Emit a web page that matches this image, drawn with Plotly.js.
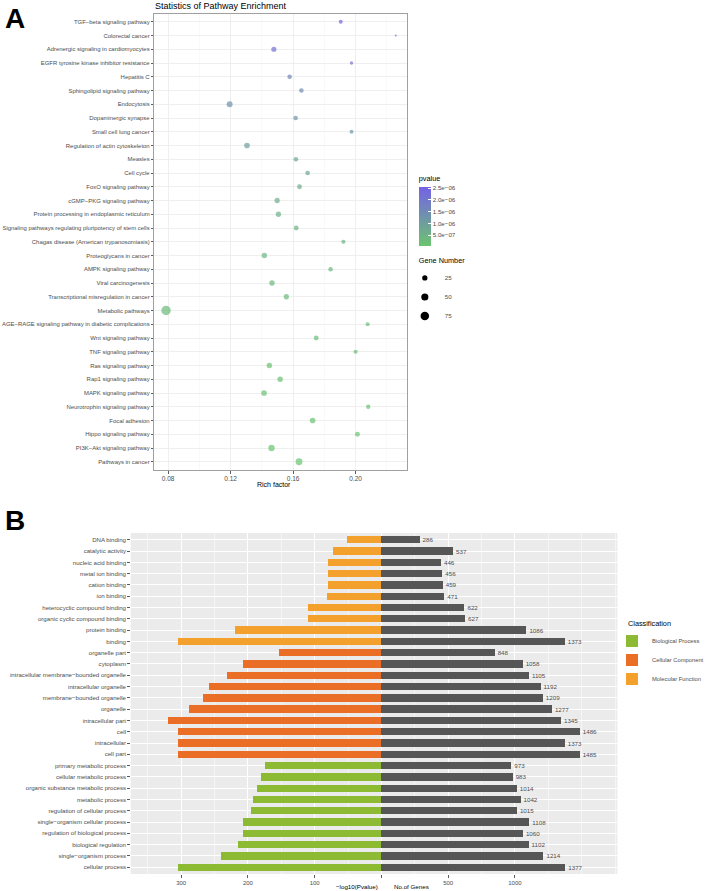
<!DOCTYPE html>
<html><head><meta charset="utf-8">
<script src="https://cdn.plot.ly/plotly-3.0.1.min.js"></script>
<style>html,body{margin:0;padding:0;background:#fff;overflow:hidden}</style>
</head><body><div id="chart" style="width:709px;height:891px"></div>
<script>
// ---------- Panel A data ----------
const pathways = ["TGF−beta signaling pathway","Colorectal cancer","Adrenergic signaling in cardiomyocytes","EGFR tyrosine kinase inhibitor resistance","Hepatitis C","Sphingolipid signaling pathway","Endocytosis","Dopaminergic synapse","Small cell lung cancer","Regulation of actin cytoskeleton","Measles","Cell cycle","FoxO signaling pathway","cGMP−PKG signaling pathway","Protein processing in endoplasmic reticulum","Signaling pathways regulating pluripotency of stem cells","Chagas disease (American trypanosomiasis)","Proteoglycans in cancer","AMPK signaling pathway","Viral carcinogenesis","Transcriptional misregulation in cancer","Metabolic pathways","AGE−RAGE signaling pathway in diabetic complications","Wnt signaling pathway","TNF signaling pathway","Ras signaling pathway","Rap1 signaling pathway","MAPK signaling pathway","Neurotrophin signaling pathway","Focal adhesion","Hippo signaling pathway","PI3K−Akt signaling pathway","Pathways in cancer"];
const richFactor = [0.1905,0.2257,0.1477,0.1974,0.1578,0.1653,0.1194,0.1616,0.1974,0.1305,0.1618,0.1693,0.1641,0.1498,0.1506,0.1620,0.1922,0.1416,0.1840,0.1465,0.1557,0.0787,0.2077,0.1748,0.2000,0.1448,0.1517,0.1414,0.2081,0.1725,0.2012,0.1462,0.1638];
const geneNumber = [14,8,24,11,19,19,33,20,14,29,20,19,21,25,25,21,16,27,18,27,25,98,15,21,16,27,27,30,17,29,22,39,46];
const pValue = [2.55e-6,2.3e-6,2.15e-6,2.05e-6,1.6e-6,1.5e-6,1.35e-6,1.2e-6,1.1e-6,1.0e-6,8.5e-7,7.5e-7,6.5e-7,6.0e-7,5.5e-7,5.0e-7,4.6e-7,4.2e-7,3.8e-7,3.4e-7,3.0e-7,2.7e-7,2.4e-7,2.1e-7,1.8e-7,1.6e-7,1.4e-7,1.2e-7,1.0e-7,8.5e-8,7.0e-8,5.5e-8,4.5e-8];
const richTicks = [0.08,0.12,0.16,0.20];
const pTicks = [5e-7,1e-6,1.5e-6,2e-6,2.5e-6];
const pTickText = ["5.0e−07","1.0e−06","1.5e−06","2.0e−06","2.5e−06"];
const sizeLegendValues = [25,50,75];

// ---------- Panel B data ----------
const goTerms = ["DNA binding","catalytic activity","nucleic acid binding","metal ion binding","cation binding","ion binding","heterocyclic compound binding","organic cyclic compound binding","protein binding","binding","organelle part","cytoplasm","intracellular membrane−bounded organelle","intracellular organelle","membrane−bounded organelle","organelle","intracellular part","cell","intracellular","cell part","primary metabolic process","cellular metabolic process","organic substance metabolic process","metabolic process","regulation of cellular process","single−organism cellular process","regulation of biological process","biological regulation","single−organism process","cellular process"];
const goClass = ["Molecular Function","Molecular Function","Molecular Function","Molecular Function","Molecular Function","Molecular Function","Molecular Function","Molecular Function","Molecular Function","Molecular Function","Cellular Component","Cellular Component","Cellular Component","Cellular Component","Cellular Component","Cellular Component","Cellular Component","Cellular Component","Cellular Component","Cellular Component","Biological Process","Biological Process","Biological Process","Biological Process","Biological Process","Biological Process","Biological Process","Biological Process","Biological Process","Biological Process"];
const goLogP = [51,73,80,80,80,82,110,110,220,305,154,207,232,259,267,288,319,305,305,305,175,180,186,192,196,207,207,215,240,305];
const goGenes = [286,537,446,456,459,471,622,627,1086,1373,848,1058,1105,1192,1209,1277,1345,1486,1373,1485,973,983,1014,1042,1015,1108,1060,1102,1214,1377];
const classNames = ["Biological Process","Cellular Component","Molecular Function"];
const logPTicks = [300,200,100,0];
const logPTickText = ["300","200","100",""];
const geneTicks = [500,1000];

// ---------- styles ----------
const W = 709, H = 891;
const px = v => v / W, py = v => 1 - v / H;
const FONT = "Liberation Sans, Arial, Helvetica, sans-serif";
const TXT = "#4D4D4D";
const classColors = {"Biological Process":"#8CBA32","Cellular Component":"#EB6E26","Molecular Function":"#F4A02C"};
const nMin = Math.min(...geneNumber), nMax = Math.max(...geneNumber);
const dotSize = n => 2 + 7.5 * Math.sqrt(Math.max(0, (n - nMin) / (nMax - nMin)));
const pMin = Math.min(...pValue), pMax = Math.max(...pValue);

const traces = [];
traces.push({
  type: "scatter", mode: "markers", x: richFactor, y: pathways, xaxis: "x", yaxis: "y",
  showlegend: false, hoverinfo: "x+y", cliponaxis: false,
  marker: {
    size: geneNumber.map(dotSize), color: pValue, cmin: pMin, cmax: pMax,
    colorscale: [[0, "#6BC46F"], [1, "#7462E6"]], line: {width: 0}, showscale: true,
    colorbar: {
      x: px(426), xanchor: "left", y: py(173), yanchor: "top",
      len: 72.5, lenmode: "pixels", thickness: 12, thicknessmode: "pixels",
      outlinewidth: 0, xpad: 0, ypad: 0,
      tickmode: "array", tickvals: pTicks, ticktext: pTickText,
      ticks: "inside", ticklen: 3, tickcolor: "white", tickwidth: 1,
      tickfont: {size: 6.2, color: TXT, family: FONT},
      title: {text: "pvalue", side: "top", font: {size: 7.3, color: "#000", family: FONT}}
    }
  }
});
sizeLegendValues.forEach(v => traces.push({
  type: "scatter", mode: "markers", x: [null], y: [null], xaxis: "x", yaxis: "y",
  name: String(v), legend: "legend", showlegend: true,
  marker: {color: "#000", size: dotSize(v), line: {width: 0}}
}));

classNames.forEach(c => {
  const idx = goTerms.map((t, i) => i).filter(i => goClass[i] === c);
  traces.push({
    type: "bar", orientation: "h", xaxis: "x2", yaxis: "y2", legend: "legend2", name: c,
    x: idx.map(i => goLogP[i]), y: idx.map(i => goTerms[i]), width: 0.65,
    marker: {color: classColors[c], line: {width: 0}}
  });
});
traces.push({
  type: "bar", orientation: "h", xaxis: "x3", yaxis: "y2", showlegend: false,
  x: goGenes, y: goTerms, width: 0.65, text: goGenes.map(String),
  textposition: "outside", constraintext: "none", cliponaxis: false,
  textfont: {size: 6.2, color: TXT, family: FONT},
  marker: {color: "#565656", line: {width: 0}}
});

const tickStyle = {ticks: "outside", ticklen: 2.5, tickwidth: 0.8, tickcolor: "#333"};
const layout = {
  width: W, height: H, margin: {l: 0, r: 0, t: 0, b: 0},
  paper_bgcolor: "#fff", plot_bgcolor: "#fff",
  font: {family: FONT, color: "#000"},
  barmode: "overlay", bargap: 0,
  xaxis: Object.assign({
    domain: [px(157), px(414)], anchor: "y", range: [0.0712, 0.2329],
    tickmode: "array", tickvals: richTicks, ticktext: richTicks.map(v => v.toFixed(2)),
    tickfont: {size: 6.5, color: TXT}, showgrid: true, gridcolor: "#EBEBEB", gridwidth: 0.8,
    minor: {tickmode: "array", tickvals: [0.10, 0.14, 0.18, 0.22], showgrid: true, gridcolor: "#F4F4F4", gridwidth: 0.5, ticks: ""},
    zeroline: false, showline: true, mirror: true, linecolor: "#A0A0A0", linewidth: 1
  }, tickStyle),
  yaxis: Object.assign({
    domain: [py(470), py(13.5)], anchor: "x", type: "category",
    categoryorder: "array", categoryarray: pathways, range: [pathways.length - 0.4, -0.6],
    tickfont: {size: 5.95, color: TXT}, showgrid: true, gridcolor: "#EBEBEB", gridwidth: 0.8,
    zeroline: false, showline: true, mirror: true, linecolor: "#A0A0A0", linewidth: 1
  }, tickStyle),
  xaxis2: Object.assign({
    domain: [px(133), px(628)], anchor: "y2", range: [375.5, -353.5],
    tickmode: "array", tickvals: logPTicks, ticktext: logPTickText,
    tickfont: {size: 6, color: TXT}, showgrid: true, gridcolor: "#FFFFFF", gridwidth: 1,
    minor: {dtick: 50, tick0: 0, showgrid: true, gridcolor: "#FFFFFF", gridwidth: 0.5, ticks: ""},
    zeroline: false, showline: false
  }, tickStyle),
  xaxis3: Object.assign({
    overlaying: "x2", anchor: "y2", side: "bottom", range: [-1877.5, 1767.5],
    tickmode: "array", tickvals: geneTicks, ticktext: geneTicks.map(String),
    tickfont: {size: 6, color: TXT}, showgrid: true, gridcolor: "#FFFFFF", gridwidth: 1,
    zeroline: false, showline: false
  }, tickStyle),
  yaxis2: Object.assign({
    domain: [py(874), py(533)], anchor: "x2", type: "category",
    categoryorder: "array", categoryarray: goTerms, range: [goTerms.length - 0.4, -0.6],
    tickfont: {size: 6.1, color: TXT}, showgrid: true, gridcolor: "#FFFFFF", gridwidth: 1,
    zeroline: false, showline: false
  }, tickStyle),
  legend: {
    x: px(424), xanchor: "left", y: py(254), yanchor: "top", bgcolor: "rgba(0,0,0,0)",
    title: {text: "Gene Number", font: {size: 7.3, color: "#000000", family: FONT}},
    font: {size: 6.2, color: TXT}, itemsizing: "trace", indentation: -12, tracegroupgap: 0
  },
  legend2: {
    x: px(637), xanchor: "left", y: py(617), yanchor: "top", bgcolor: "rgba(0,0,0,0)",
    title: {text: "Classification", font: {size: 7.3, color: "#000000", family: FONT}},
    font: {size: 5.8, color: TXT}, indentation: -14, tracegroupgap: 0, traceorder: "normal"
  },
  shapes: [{type: "rect", xref: "x2 domain", yref: "y2 domain", x0: 0, x1: 1, y0: 0, y1: 1,
            fillcolor: "#EBEBEB", line: {width: 0}, layer: "below"}],
  annotations: [
    {text: "<b>A</b>", x: px(3), y: py(1), xref: "paper", yref: "paper", xanchor: "left", yanchor: "top", showarrow: false, font: {size: 28, color: "#000"}},
    {text: "<b>B</b>", x: px(3), y: py(503), xref: "paper", yref: "paper", xanchor: "left", yanchor: "top", showarrow: false, font: {size: 28, color: "#000"}},
    {text: "Statistics of Pathway Enrichment", x: px(156), y: py(6), xref: "paper", yref: "paper", xanchor: "left", yanchor: "middle", showarrow: false, font: {size: 9, color: "#000"}},
    {text: "Rich factor", x: px(279), y: py(485), xref: "paper", yref: "paper", xanchor: "center", yanchor: "middle", showarrow: false, font: {size: 7, color: "#000"}},
    {text: "−log10(Pvalue)", x: px(363), y: py(886), xref: "paper", yref: "paper", xanchor: "center", yanchor: "middle", showarrow: false, font: {size: 6.2, color: "#000"}},
    {text: "No.of Genes", x: px(418.5), y: py(886), xref: "paper", yref: "paper", xanchor: "center", yanchor: "middle", showarrow: false, font: {size: 6.2, color: "#000"}}
  ]
};
Plotly.newPlot("chart", traces, layout, {displayModeBar: false, staticPlot: true});
</script></body></html>
